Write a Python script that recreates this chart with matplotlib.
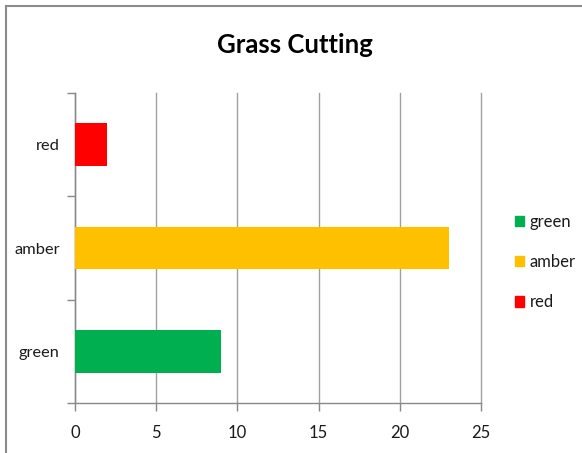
import matplotlib
matplotlib.use("Agg")
import matplotlib.pyplot as plt
from matplotlib.patches import Rectangle

categories = ["green", "amber", "red"]
values = [9, 23, 2]
colors = ["#00B050", "#FFC000", "#FF0000"]
x_ticks = [0, 5, 10, 15, 20, 25]

font = ["Lato", "DejaVu Sans"]
plt.rcParams["font.family"] = font

fig = plt.figure(figsize=(5.82, 4.53), dpi=100)
W, H = 582, 453
# chart border (right and bottom edges lie outside the picture)
fig.patches.append(Rectangle((6 / W, -10 / H), 600 / W, (H - 6 + 10) / H, transform=fig.transFigure,
                             fill=False, edgecolor="#8c8c8c", linewidth=1.5, clip_on=False))

ax = fig.add_axes([75 / W, (H - 403) / H, (481 - 75) / W, (403 - 93) / H])
y = list(range(len(categories)))
ax.barh(y, values, height=0.41, color=colors, zorder=3)
ax.set_xlim(0, 25)
ax.set_ylim(-0.5, 2.5)
ax.set_xticks(x_ticks)
ax.set_xticklabels([str(t) for t in x_ticks])
ax.set_yticks(y)
ax.set_yticklabels(categories)
ax.set_yticks([-0.5, 0.5, 1.5, 2.5], minor=True)
ax.tick_params(axis="y", which="major", length=0, pad=11, labelsize=11.8, labelcolor="#1a1a1a")
ax.tick_params(axis="y", which="minor", length=6, color="#888888", width=1)
ax.tick_params(axis="x", length=6, color="#888888", width=1, labelsize=12, labelcolor="#1a1a1a", pad=10)
ax.grid(axis="x", color="#a0a0a0", linewidth=1, zorder=0)
for gl in ax.get_xgridlines():
    gl.set_clip_on(False)
for s in ["top", "right"]:
    ax.spines[s].set_visible(False)
for s in ["left", "bottom"]:
    ax.spines[s].set_color("#888888")
    ax.spines[s].set_linewidth(1)

fig.text(295 / W, 1 - 45 / H, "Grass Cutting", ha="center", va="center",
         fontsize=18.5, fontweight="bold", color="black")

handles = [Rectangle((0, 0), 1, 1, color=c) for c in colors]
leg = fig.legend(handles, categories, loc="center left", bbox_to_anchor=(500 / W, 1 - 262 / H),
                 frameon=False, fontsize=12, handlelength=0.55, handleheight=0.6,
                 handletextpad=0.35, labelspacing=1.45)
for t in leg.get_texts():
    t.set_color("#1a1a1a")

fig.savefig("out.png", dpi=100)
